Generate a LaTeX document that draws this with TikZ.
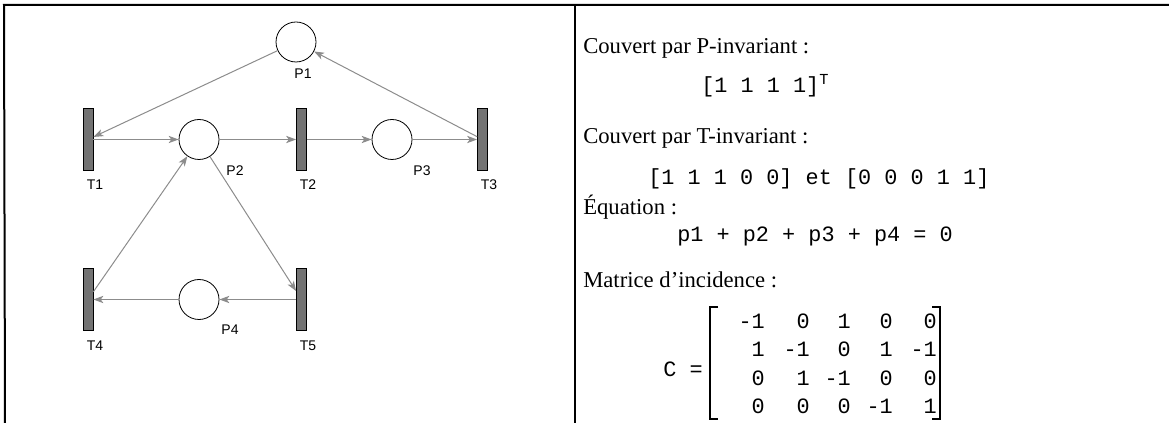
\documentclass[tikz,border=0pt]{standalone}
\usepackage{fontspec}
\setmainfont{Liberation Serif}
\newfontfamily\textfnt{Liberation Serif}
\newfontfamily\labelfont{Liberation Sans}
\newfontfamily\monofont{Liberation Mono}
\usetikzlibrary{arrows.meta}
\definecolor{agray}{gray}{0.55}
\definecolor{tgray}{gray}{0.45}
\begin{document}
\begin{tikzpicture}[x=0.75pt,y=-0.75pt,
  place/.style={circle,draw=black,line width=0.6pt,fill=white,minimum size=30pt,inner sep=0pt},
  trans/.style={rectangle,draw=black,line width=0.6pt,fill=tgray,minimum width=7.5pt,minimum height=47pt,inner sep=0pt},
  lbl/.style={font=\labelfont\fontsize{10.5}{12}\selectfont,inner sep=0pt},
  arc/.style={draw=agray,line width=0.75pt,-{Stealth[length=7.5pt,width=5.5pt,inset=2pt,fill=agray]}},
  txt/.style={anchor=base west,inner sep=0pt,font=\textfnt\fontsize{17}{20}\selectfont},
  mono/.style={anchor=base west,inner sep=0pt,font=\monofont\fontsize{16.4}{19}\selectfont},
  entry/.style={anchor=base east,inner sep=0pt,font=\monofont\fontsize{16.4}{19}\selectfont},
  framel/.style={line width=1.5pt,black},
  brack/.style={line width=1.4pt,black}
]
\useasboundingbox (0,0) rectangle (1169,423);
% frame
\coordinate (f1) at (4,5);
\coordinate (f2) at (1169,5);
\coordinate (f3) at (5,423);
\coordinate (d1) at (575,5);
\coordinate (d2) at (575,423);
\draw[framel] (f3) -- (f1 |- f2) -- (f2);
\draw[framel] (d1) -- (d2);
% Petri net
\node[place] (P1) at (296,42) {};
\node[trans] (T1) at (88,139.5) {};
\node[place] (P2) at (199,139.5) {};
\node[trans] (T2) at (301.5,139.5) {};
\node[place] (P3) at (392,139.5) {};
\node[trans] (T3) at (482.5,139.5) {};
\node[trans] (T4) at (88,299.5) {};
\node[place] (P4) at (199,299.5) {};
\node[trans] (T5) at (301.5,299.5) {};
\node[lbl] (lP1) at (303,74) {P1};
\node[lbl] (lP2) at (235,171) {P2};
\node[lbl] (lP3) at (422,171) {P3};
\node[lbl] (lP4) at (230,330) {P4};
\node[lbl] (lT1) at (95,185) {T1};
\node[lbl] (lT2) at (308,185) {T2};
\node[lbl] (lT3) at (489,185) {T3};
\node[lbl] (lT4) at (95,346) {T4};
\node[lbl] (lT5) at (308,346) {T5};
\draw[arc] (P1) -- (T1);
\draw[arc] (T1) -- (P2);
\draw[arc] (P2) -- (T2);
\draw[arc] (T2) -- (P3);
\draw[arc] (P3) -- (T3);
\draw[arc] (T3) -- (P1);
\draw[arc] (T4) -- (P2);
\draw[arc] (P2) -- (T5);
\draw[arc] (T5) -- (P4);
\draw[arc] (P4) -- (T4);
% right panel
\node[txt] (c1) at (583,54) {Couvert par P-invariant :};
\node[mono] (v1) at (701,93) {[1 1 1 1]\textsuperscript{T}};
\node[txt] (c2) at (583,144) {Couvert par T-invariant :};
\node[mono] (v2) at (648,185) {[1 1 1 0 0] et [0 0 0 1 1]};
\node[txt] (c3) at (583,215) {Équation :};
\node[mono] (v3) at (677,242) {p1 + p2 + p3 + p4 = 0};
\node[txt] (c4) at (583,288) {Matrice d’incidence :};
\node[mono] (cm) at (663,377) {C =};
\coordinate (lb1) at (718,307);
\coordinate (lb2) at (710,307);
\coordinate (lb3) at (710,419);
\coordinate (lb4) at (718,419);
\draw[brack] (lb1) -- (lb2) -- (lb3) -- (lb4);
\coordinate (rb1) at (932,307);
\coordinate (rb2) at (940,307);
\coordinate (rb3) at (940,419);
\coordinate (rb4) at (932,419);
\draw[brack] (rb1) -- (rb2) -- (rb3) -- (rb4);
\foreach \rowvals [count=\r] in {{-1,0,1,0,0},{1,-1,0,1,-1},{0,1,-1,0,0},{0,0,0,-1,1}} {
  \foreach \v [count=\c] in \rowvals {
    \pgfmathsetmacro\xx{{765,810,851,893,937}[\c-1]}
    \pgfmathsetmacro\yy{329+28*(\r-1)}
    \node[entry] (m\r\c) at (\xx,\yy) {\v};
  }
}
\end{tikzpicture}
\end{document}
